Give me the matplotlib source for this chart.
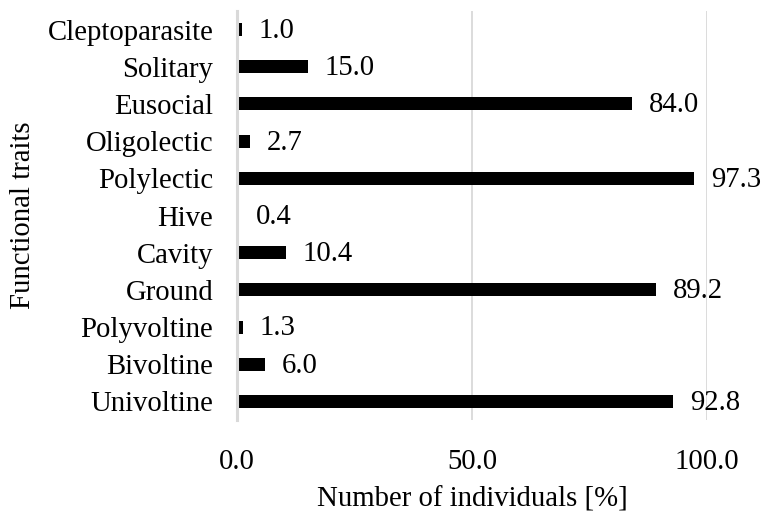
import matplotlib
matplotlib.use('Agg')
import matplotlib.pyplot as plt

# bee functional traits, share of individuals
traits = ['Univoltine', 'Bivoltine', 'Polyvoltine', 'Ground', 'Cavity', 'Hive',
          'Polylectic', 'Oligolectic', 'Eusocial', 'Solitary', 'Cleptoparasite']
values = [92.8, 6.0, 1.3, 89.2, 10.4, 0.4, 97.3, 2.7, 84.0, 15.0, 1.0]
xticks = [0, 50, 100]

plt.rcParams['font.family'] = ['Liberation Serif', 'DejaVu Serif']
FS = 20.7

fig = plt.figure(figsize=(7.66, 5.12), dpi=100, facecolor='white')
ax = fig.add_axes([0.3094, 0.1797, 0.6136, 0.7988])

ypos = list(range(len(traits)))
ax.barh(ypos, values, height=0.35, color='black', zorder=3)

for y, v in zip(ypos, values):
    ax.annotate(f'{v:.1f}', xy=(v, y), xytext=(12, -1), textcoords='offset points',
                ha='left', va='center', fontsize=FS, color='black',
                annotation_clip=False)

ax.set_xlim(0, 100)
ax.set_ylim(-0.5, len(traits) - 0.5)
ax.set_yticks(ypos)
ax.set_yticklabels(traits, fontsize=FS)
ax.set_xticks(xticks)
ax.set_xticklabels([f'{t:.1f}' for t in xticks], fontsize=FS)
ax.tick_params(axis='both', length=0)
ax.tick_params(axis='y', pad=17)
ax.tick_params(axis='x', pad=21)

ax.grid(axis='x', color='#d9d9d9', lw=1.3, zorder=0)
ax.set_axisbelow(True)
for side in ['top', 'right', 'bottom']:
    ax.spines[side].set_visible(False)
ax.spines['left'].set_color('#d9d9d9')
ax.spines['left'].set_linewidth(2.2)
ax.spines['left'].set_zorder(5)

ax.set_xlabel('Number of individuals [%]', fontsize=FS, labelpad=8)
ax.set_ylabel('Functional traits', fontsize=FS, labelpad=8)

plt.savefig('out.png', dpi=100, facecolor='white')
